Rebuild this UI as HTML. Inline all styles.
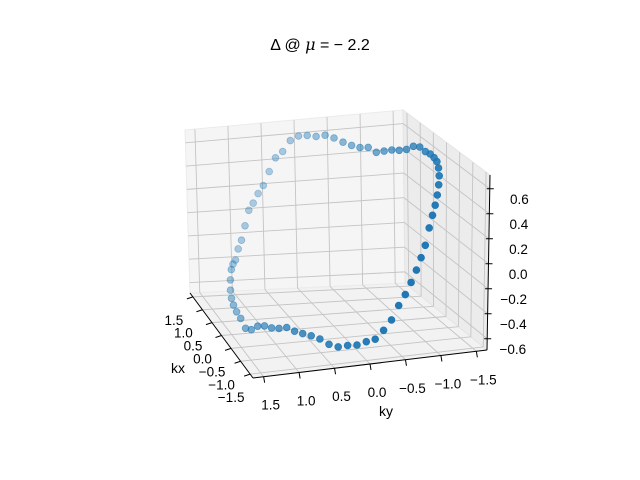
<!DOCTYPE html>
<html><head><meta charset="utf-8"><style>
html,body{margin:0;padding:0;background:#fff;}
svg{display:block;font-family:"Liberation Sans","DejaVu Sans",sans-serif;}
</style></head><body>
<svg id="chart" width="640" height="480" viewBox="0 0 640 480" xmlns="http://www.w3.org/2000/svg">
<text x="320" y="50" text-anchor="middle" font-size="16" fill="#000">Δ @ <tspan font-style="italic" font-family="DejaVu Serif, serif">μ</tspan> = − 2.2</text>
<g id="panes"></g><g id="grid"></g><g id="axes"></g><g id="pts"></g>
<text x="178" y="373" text-anchor="middle" font-size="14">kx</text>
<text x="386" y="416" text-anchor="middle" font-size="14">ky</text>
</svg>
<script>
const kxTicks=[-1.5,-1.0,-0.5,0.0,0.5,1.0,1.5];
const kyTicks=[-1.5,-1.0,-0.5,0.0,0.5,1.0,1.5];
const zTicks=[-0.6,-0.4,-0.2,0.0,0.2,0.4,0.6];
// set A: 0,10,...,350 deg around the Fermi ring
const kxA=[1.470,1.439,1.353,1.225,1.072,0.900,0.708,0.492,0.254,0,-0.254,-0.492,-0.708,-0.900,-1.072,-1.225,-1.353,-1.439,
-1.470,-1.439,-1.353,-1.225,-1.072,-0.900,-0.708,-0.492,-0.254,0,0.254,0.492,0.708,0.900,1.072,1.225,1.353,1.439];
const kyA=[0,0.254,0.492,0.708,0.900,1.072,1.225,1.353,1.439,1.470,1.439,1.353,1.225,1.072,0.900,0.708,0.492,0.254,
0,-0.254,-0.492,-0.708,-0.900,-1.072,-1.225,-1.353,-1.439,-1.470,-1.439,-1.353,-1.225,-1.072,-0.900,-0.708,-0.492,-0.254];
const deltaA=[0.61,0.50,0.36,0.21,0.11,-0.10,-0.22,-0.25,-0.37,-0.44,-0.50,-0.55,-0.48,-0.47,-0.47,-0.49,-0.55,-0.56,
-0.54,-0.47,-0.30,-0.15,0.01,0.21,0.35,0.47,0.56,0.60,0.61,0.62,0.56,0.53,0.54,0.54,0.59,0.60];
// set B: 5,15,...,355 deg
const kxB=[1.462,1.403,1.293,1.152,0.988,0.807,0.604,0.376,0.128,-0.128,-0.376,-0.604,-0.807,-0.988,-1.152,-1.293,-1.403,-1.462,
-1.462,-1.403,-1.293,-1.152,-0.988,-0.807,-0.604,-0.376,-0.128,0.128,0.376,0.604,0.807,0.988,1.152,1.293,1.403,1.462];
const kyB=[0.128,0.376,0.604,0.807,0.988,1.152,1.293,1.403,1.462,1.462,1.403,1.293,1.152,0.988,0.807,0.604,0.376,0.128,
-0.128,-0.376,-0.604,-0.807,-0.988,-1.152,-1.293,-1.403,-1.462,-1.462,-1.403,-1.293,-1.152,-0.988,-0.807,-0.604,-0.376,-0.128];
const deltaB=[0.58,0.46,0.26,0.15,0.00,-0.15,-0.23,-0.31,-0.41,-0.47,-0.56,-0.50,-0.48,-0.45,-0.48,-0.51,-0.57,-0.56,
-0.53,-0.40,-0.23,-0.07,0.09,0.29,0.41,0.52,0.59,0.61,0.63,0.58,0.55,0.51,0.53,0.56,0.61,0.61];
const kxValues=kxA.concat(kxB);
const kyValues=kyA.concat(kyB);
const deltaValues=deltaA.concat(deltaB);

const L=1.65, ZMIN=-0.69, ZMAX=0.71;
const C={F:[253,378],R:[487,350],B:[190,293],K:[405,283],Ft:[255,213],Rt:[490,175],Bt:[185,130],Kt:[403,110]};
function lerp(a,b,t){return [a[0]+(b[0]-a[0])*t,a[1]+(b[1]-a[1])*t];}
function P(u,v,w){
  const f=lerp(lerp(C.F,C.R,v),lerp(C.B,C.K,v),u);
  const t=lerp(lerp(C.Ft,C.Rt,v),lerp(C.Bt,C.Kt,v),u);
  return lerp(f,t,w);
}
const U=kx=>(kx+L)/(2*L), V=ky=>(L-ky)/(2*L), W=z=>(z-ZMIN)/(ZMAX-ZMIN);
const NS="http://www.w3.org/2000/svg";
function mk(tag,attrs,parent){const e=document.createElementNS(NS,tag);for(const k in attrs)e.setAttribute(k,attrs[k]);parent.appendChild(e);return e;}
const panes=document.getElementById('panes'),grid=document.getElementById('grid'),axes=document.getElementById('axes'),pts=document.getElementById('pts');
function poly(ps){return ps.map(p=>p[0].toFixed(1)+','+p[1].toFixed(1)).join(' ');}
let e;
e=mk('polygon',{points:poly([P(0,0,0),P(0,1,0),P(1,1,0),P(1,0,0)]),fill:'#f2f2f2',stroke:'#ebebeb'},panes);

e=mk('polygon',{points:poly([P(1,0,0),P(1,1,0),P(1,1,1),P(1,0,1)]),fill:'#f5f5f5',stroke:'#ebebeb'},panes);

e=mk('polygon',{points:poly([P(1,1,0),P(0,1,0),P(0,1,1),P(1,1,1)]),fill:'#ececec',stroke:'#e4e4e4'},panes);

function line(a,b,attrs,parent,name){const l=mk('line',Object.assign({x1:a[0],y1:a[1],x2:b[0],y2:b[1]},attrs),parent);return l;}
const ga={stroke:'#c4c4c4','stroke-width':0.9};
kxTicks.forEach(t=>{const u=U(t);line(P(u,0,0),P(u,1,0),ga,grid,'kx-gridline');line(P(u,1,0),P(u,1,1),ga,grid,'kx-gridline');});
kyTicks.forEach(t=>{const v=V(t);line(P(0,v,0),P(1,v,0),ga,grid,'ky-gridline');line(P(1,v,0),P(1,v,1),ga,grid,'ky-gridline');});
zTicks.forEach(t=>{const w=W(t);line(P(1,0,w),P(1,1,w),ga,grid,'z-gridline');line(P(1,1,w),P(0,1,w),ga,grid,'z-gridline');});
const aa={stroke:'#000','stroke-width':1};
line(P(1,0,0),P(0,0,0),aa,axes,'kx-axis-line');
line(P(0,0,0),P(0,1,0),aa,axes,'ky-axis-line');
line(P(0,1,0),P(0,1,1),aa,axes,'z-axis-line');
function fmt(t){const s=Math.abs(t).toFixed(1);return (t<0?'−':'')+s;}
function label(x,y,txt,anchor,name){const tx=mk('text',{x:x,y:y,'text-anchor':anchor,'font-size':13.5,fill:'#000'},axes);tx.textContent=txt;}
kxTicks.forEach(t=>{const p=P(U(t),0,0);line(p,[p[0]-6,p[1]+2],aa,axes,'kx-tick');label(p[0]-19,p[1]+28,fmt(t),'middle','kx-tick-label');});
kyTicks.forEach(t=>{const p=P(0,V(t),0);line(p,[p[0]+1,p[1]+6],aa,axes,'ky-tick');label(p[0]+7,p[1]+33,fmt(t),'middle','ky-tick-label');});
zTicks.forEach(t=>{const p=P(0,1,W(t));line([p[0]-3,p[1]],[p[0]+4,p[1]],aa,axes,'z-tick');label(p[0]+39,p[1]+15,fmt(t),'end','z-tick-label');});
const items=kxValues.map((kx,i)=>{const u=U(kx),v=V(kyValues[i]);return {i:i,p:P(u,v,W(deltaValues[i])),d:0.6*u+0.4*(1-v)};});
const ds=items.map(o=>o.d),dmin=Math.min(...ds),dmax=Math.max(...ds);
items.sort((a,b)=>b.d-a.d);
items.forEach(o=>{
  const a=1-0.65*(o.d-dmin)/(dmax-dmin);
  const c=mk('circle',{cx:o.p[0].toFixed(1),cy:o.p[1].toFixed(1),r:3.4,fill:'#1f77b4','fill-opacity':a.toFixed(2),stroke:'#1f77b4','stroke-opacity':a.toFixed(2),'stroke-width':0.8},pts);
  
  
});
</script>
</body></html>
